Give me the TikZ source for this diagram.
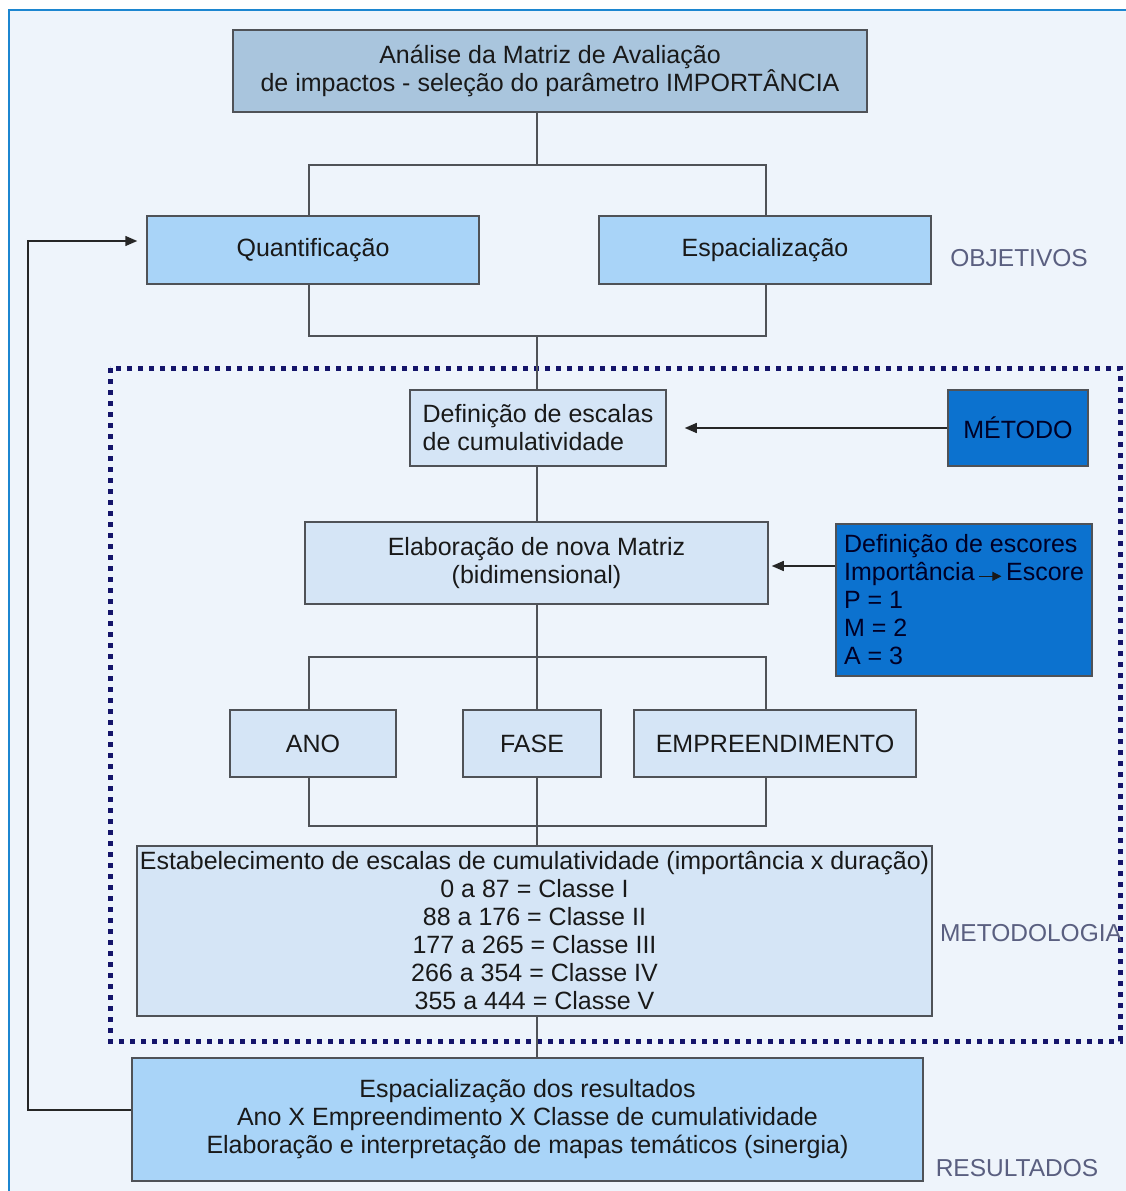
\documentclass[tikz,border=0pt]{standalone}
\usepackage{fontspec}
\setmainfont{Liberation Sans}
\usetikzlibrary{arrows.meta,calc}
\definecolor{bgc}{HTML}{EEF4FB}
\definecolor{framec}{HTML}{1C86D0}
\definecolor{topc}{HTML}{A9C5DD}
\definecolor{midc}{HTML}{A9D4F8}
\definecolor{lightc}{HTML}{D5E5F6}
\definecolor{strongc}{HTML}{0C72CF}
\definecolor{edgec}{HTML}{4F5257}
\definecolor{labc}{HTML}{5A5F80}
\definecolor{dotc}{HTML}{14146A}
\begin{document}
\begin{tikzpicture}[x=1pt,y=-1pt,
  box/.style={draw=edgec,line width=1.5pt,rectangle,inner sep=0pt,align=center,text=black!90,
    font=\fontsize{25}{28}\selectfont},
  topbox/.style={box,fill=topc},
  midbox/.style={box,fill=midc},
  lightbox/.style={box,fill=lightc},
  strongbox/.style={box,fill=strongc,text={black!85!blue}},
  lab/.style={text=labc,font=\fontsize{24.5}{28}\selectfont,inner sep=0pt},
  conn/.style={draw=edgec,line width=1.5pt},
  arr/.style={conn,draw=black!85,-{Triangle[length=12pt,width=10pt]}}]
\useasboundingbox (0,0) rectangle (1125,1191);
\fill[white] (0,0) rectangle (1125,1191);
\fill[bgc] (9,10) rectangle (1130,1200);
\draw[framec,line width=2.5pt] (9,1200) -- (9,10) -- (1130,10);
% method frame
\draw[dotc,line width=5pt,dash pattern=on 5pt off 6pt] (110,368) rectangle (1120,1041);
% nodes
\node[topbox,minimum width=634pt,minimum height=82pt] (top) at (550,71)
  {Análise da Matriz de Avaliação\\de impactos - seleção do parâmetro IMPORTÂNCIA};
\node[midbox,minimum width=332pt,minimum height=68pt] (q) at (313,250) {Quantificação};
\node[midbox,minimum width=332pt,minimum height=68pt] (e) at (765,250) {Espacialização};
\node[lightbox,minimum width=256pt,minimum height=76pt,align=left] (def) at (538,428)
  {Definição de escalas\\de cumulatividade};
\node[strongbox,minimum width=140pt,minimum height=76pt] (met) at (1018,428) {MÉTODO};
\node[lightbox,minimum width=463pt,minimum height=82pt] (elab) at (536.5,563)
  {Elaboração de nova Matriz\\(bidimensional)};
\node[strongbox,minimum width=256pt,minimum height=152pt,align=left] (esc) at (964,600)
  {Definição de escores\\Importância\,\tikz[baseline=-0.35ex,x=1pt,y=1pt]\draw[line width=1.1pt,black!90,-{Triangle[length=9pt,width=9pt]}] (0,0)--(22,0);\,Escore\\P = 1\\M = 2\\A = 3};
\node[lightbox,minimum width=166pt,minimum height=67pt] (ano) at (313,743.5) {ANO};
\node[lightbox,minimum width=138pt,minimum height=67pt] (fase) at (532,743.5) {FASE};
\node[lightbox,minimum width=282pt,minimum height=67pt] (emp) at (775,743.5) {EMPREENDIMENTO};
\node[lightbox,minimum width=795pt,minimum height=170pt] (est) at (534.5,931)
  {Estabelecimento de escalas de cumulatividade (importância x duração)\\0 a 87 = Classe I\\88 a 176 = Classe II\\177 a 265 = Classe III\\266 a 354 = Classe IV\\355 a 444 = Classe V};
\node[midbox,minimum width=791pt,minimum height=123pt] (res) at (527.5,1119.5)
  {Espacialização dos resultados\\Ano X Empreendimento X Classe de cumulatividade\\Elaboração e interpretação de mapas temáticos (sinergia)};
% labels
\node[lab] (lobj) at (1019,258) {OBJETIVOS};
\node[lab] (lmet) at (1031,933) {METODOLOGIA};
\node[lab] (lres) at (1017,1168) {RESULTADOS};
% junctions
\coordinate (L) at (309,0);
\coordinate (R) at (766,0);
\coordinate (j1) at (537,165);
\coordinate (j2) at (537,336);
\coordinate (j3) at (537,657);
\coordinate (j4) at (537,826);
\coordinate (fb) at (28,1110);
% connectors
\draw[conn] (j1 |- top.south) -- (j1);
\draw[conn] (q.north -| L) |- (j1) -| (e.north -| R);
\draw[conn] (q.south -| L) |- (j2) -| (e.south -| R);
\draw[conn] (j2) -- (j2 |- def.north);
\draw[conn] (j2 |- def.south) -- (j2 |- elab.north);
\draw[conn] (j3 |- elab.south) -- (j3);
\draw[conn] (ano.north -| L) |- (j3) -| (emp.north -| R);
\draw[conn] (j3) -- (j3 |- fase.north);
\draw[conn] (ano.south -| L) |- (j4) -| (emp.south -| R);
\draw[conn] (j4 |- fase.south) -- (j4);
\draw[conn] (j4) -- (j4 |- est.north);
\draw[conn] (j4 |- est.south) -- (j4 |- res.north);
\draw[arr,shorten >=18pt] (met.west) -- (met.west -| def.east);
\draw[arr,shorten >=3pt] (esc.west |- 0,566) -- (elab.east |- 0,566);
\draw[arr,shorten >=9pt] (res.west |- fb) -- (fb) |- (q.west |- 0,241);
\end{tikzpicture}
\end{document}
